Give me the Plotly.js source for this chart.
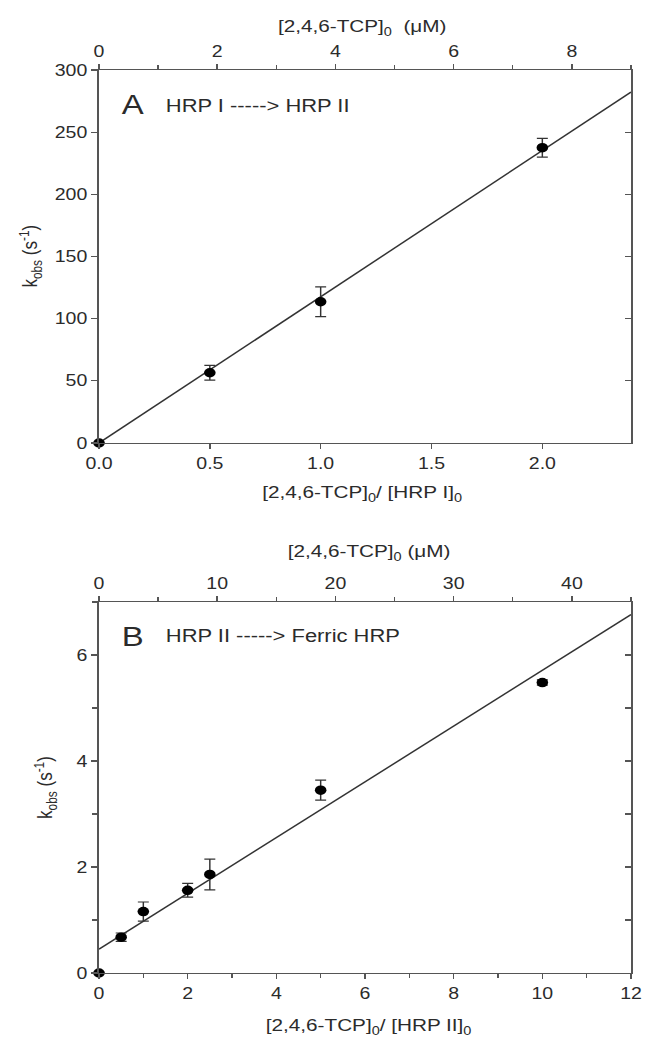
<!DOCTYPE html>
<html><head><meta charset="utf-8">
<script src="https://cdn.plot.ly/plotly-3.0.1.min.js"></script>
<style>
html,body{margin:0;padding:0;background:#fff;overflow:hidden;width:646px;height:1038px}
#chart{width:530px;height:1038px;transform-origin:0 0;}
</style>
</head><body><div id="chart"></div>
<script>
// ---- Panel A data: HRP I -> HRP II ----
const ratioA = [0, 0.5, 1.0, 2.0];
const kobsA  = [0, 56.5, 113.6, 237.5];
const errA   = [0, 6, 12, 7.5];
const fitA   = {slope: 117.6, intercept: 0};
// ---- Panel B data: HRP II -> Ferric HRP ----
const ratioB = [0, 0.5, 1, 2, 2.5, 5, 10];
const kobsB  = [0, 0.675, 1.16, 1.56, 1.86, 3.45, 5.48];
const errB   = [0, 0.08, 0.18, 0.13, 0.29, 0.19, 0.05];
const fitB   = {slope: 0.526, intercept: 0.45};
// enzyme concentration (µM) linking the ratio axis to the concentration axis
const enzymeConc = 3.75;
const xRangeA = [0, 2.4], yRangeA = [0, 300];
const xRangeB = [0, 12],  yRangeB = [0, 7];

// The reference figure is horizontally stretched: draw at a narrower width and stretch the page.
const PAGE_W = 646, H = 1038, LW = 530;
const S = PAGE_W / LW;
document.getElementById('chart').style.transform = 'scaleX(' + S + ')';
const px = v => (v / S) / LW, py = v => 1 - v / H;
const txt = '#2b2b2b', ax = '#555';

function fitLine(range, f, xa, ya) {
  return {x: range, y: range.map(v => f.intercept + f.slope * v), xaxis: xa, yaxis: ya,
    mode: 'lines', line: {color: '#333', width: 1.4}, hoverinfo: 'skip', showlegend: false, cliponaxis: false};
}
function pts(x, y, e, xa, ya) {
  return {x: x, y: y, xaxis: xa, yaxis: ya, mode: 'markers', showlegend: false, cliponaxis: false,
    marker: {color: '#000', size: 9.5},
    error_y: {type: 'data', array: e, visible: true, color: '#333', thickness: 1.2, width: 4.5}};
}
function ghost(x, y, xa, ya) {
  return {x: x, y: y, xaxis: xa, yaxis: ya, mode: 'markers', marker: {opacity: 0}, hoverinfo: 'skip', showlegend: false};
}

const data = [
  fitLine(xRangeA, fitA, 'x', 'y'),
  pts(ratioA, kobsA, errA, 'x', 'y'),
  ghost(ratioA.map(r => r * enzymeConc), kobsA, 'x2', 'y'),
  ghost(ratioA, kobsA, 'x', 'y2'),
  fitLine(xRangeB, fitB, 'x3', 'y3'),
  pts(ratioB, kobsB, errB, 'x3', 'y3'),
  ghost(ratioB.map(r => r * enzymeConc), kobsB, 'x4', 'y3'),
  ghost(ratioB, kobsB, 'x3', 'y4')
];

const base = {showline: true, linecolor: ax, linewidth: 1.4, ticks: 'outside', ticklen: 5,
  tickcolor: ax, tickwidth: 1.2, showgrid: false, zeroline: false,
  tickfont: {size: 16, color: txt}, fixedrange: true};
const minor = d => ({dtick: d, ticks: 'outside', ticklen: 4, tickcolor: ax, tickwidth: 1.1});

const domX = [px(99), px(631)];
const domA = [py(443), py(70)];
const domB = [py(973), py(602)];

const layout = {
  width: LW, height: H, margin: {l: 0, r: 0, t: 0, b: 0},
  paper_bgcolor: '#fff', plot_bgcolor: '#fff',
  font: {family: 'Liberation Sans, Arial, sans-serif', color: txt},
  showlegend: false,
  xaxis: Object.assign({}, base, {domain: domX, range: xRangeA, anchor: 'y', dtick: 0.5, tickformat: '.1f'}),
  xaxis2: Object.assign({}, base, {overlaying: 'x', side: 'top', anchor: 'y',
    range: xRangeA.map(v => v * enzymeConc), dtick: 2, minor: minor(1)}),
  yaxis: Object.assign({}, base, {domain: domA, range: yRangeA, anchor: 'x', dtick: 50}),
  yaxis2: Object.assign({}, base, {overlaying: 'y', side: 'right', anchor: 'x', range: yRangeA,
    dtick: 50, ticks: 'inside', showticklabels: false}),
  xaxis3: Object.assign({}, base, {domain: domX, range: xRangeB, anchor: 'y3', dtick: 2, minor: minor(1)}),
  xaxis4: Object.assign({}, base, {overlaying: 'x3', side: 'top', anchor: 'y3',
    range: xRangeB.map(v => v * enzymeConc), dtick: 10, minor: minor(5)}),
  yaxis3: Object.assign({}, base, {domain: domB, range: yRangeB, anchor: 'x3', dtick: 2, minor: minor(1)}),
  yaxis4: Object.assign({}, base, {overlaying: 'y3', side: 'right', anchor: 'x3', range: yRangeB,
    dtick: 1, ticks: 'inside', showticklabels: false}),
  annotations: [
    {text: 'A', x: px(119), y: py(105), size: 27, xanchor: 'left'},
    {text: 'HRP I -----> HRP II', x: px(163), y: py(106), size: 18, xanchor: 'left'},
    {text: '[2,4,6-TCP]<sub>0</sub>  (μM)', x: px(362), y: py(28), size: 17},
    {text: '[2,4,6-TCP]<sub>0</sub>/ [HRP I]<sub>0</sub>', x: px(362), y: py(494), size: 17},
    {text: 'k<sub>obs</sub> (s<sup>-1</sup>)', x: px(30), y: py(256), size: 17, textangle: -90},
    {text: 'B', x: px(119), y: py(637), size: 27, xanchor: 'left'},
    {text: 'HRP II -----> Ferric HRP', x: px(163), y: py(636), size: 18, xanchor: 'left'},
    {text: '[2,4,6-TCP]<sub>0</sub> (μM)', x: px(369), y: py(553), size: 17},
    {text: '[2,4,6-TCP]<sub>0</sub>/ [HRP II]<sub>0</sub>', x: px(369), y: py(1027), size: 17},
    {text: 'k<sub>obs</sub> (s<sup>-1</sup>)', x: px(45), y: py(787), size: 17, textangle: -90}
  ].map(a => ({text: a.text, x: a.x, y: a.y, xref: 'paper', yref: 'paper', showarrow: false,
    xanchor: a.xanchor || 'center', yanchor: 'middle', textangle: a.textangle || 0,
    font: {size: a.size, color: txt}}))
};

Plotly.newPlot('chart', data, layout, {staticPlot: true, displayModeBar: false});
</script>
</body></html>
